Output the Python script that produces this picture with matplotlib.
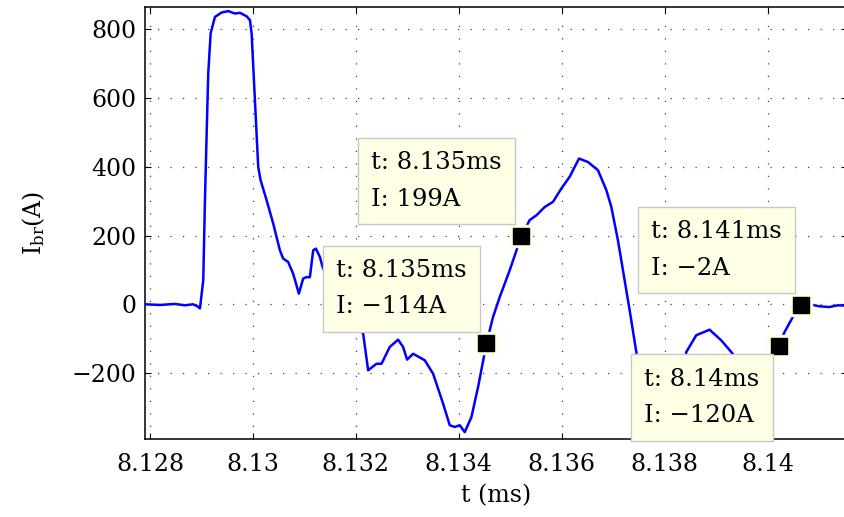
import matplotlib
matplotlib.use('Agg')
import matplotlib.pyplot as plt

plt.rcParams['font.family'] = ['DejaVu Serif']
plt.rcParams['mathtext.fontset'] = 'dejavuserif'

# branch current trace (t in ms, I in A)
t_ms = [8.127903, 8.128194, 8.128485, 8.128680, 8.128835, 8.128913, 8.128971,
        8.129035, 8.129068, 8.129101, 8.129132, 8.129179, 8.129262, 8.129392,
        8.129520, 8.129650, 8.129748, 8.129878, 8.129942, 8.129975, 8.130039,
        8.130103, 8.130149, 8.130266, 8.130394, 8.130524, 8.130588, 8.130685,
        8.130782, 8.130893, 8.130977, 8.131043, 8.131107, 8.131171, 8.131223,
        8.131301, 8.131353, 8.131495, 8.131689, 8.131883, 8.132039, 8.132142,
        8.132239, 8.132402, 8.132499, 8.132660, 8.132821, 8.132918, 8.132996,
        8.133113, 8.133340, 8.133501, 8.133695, 8.133825, 8.133922, 8.134019,
        8.134116, 8.134246, 8.134375, 8.134538, 8.134666, 8.134796, 8.134990,
        8.135217, 8.135378, 8.135509, 8.135670, 8.135831, 8.135994, 8.136155,
        8.136336, 8.136510, 8.136705, 8.136868, 8.136965, 8.137093, 8.137223,
        8.137320, 8.137450, 8.137553, 8.137670, 8.137806, 8.137961, 8.138136,
        8.138272, 8.138369, 8.138421, 8.138615, 8.138874, 8.139101, 8.139295,
        8.139495, 8.139748, 8.139981, 8.140219, 8.140330, 8.140491, 8.140654,
        8.140880, 8.141009, 8.141204, 8.141359, 8.141534]
i_br = [0, -2, 1, -3, 0, -5, -12,
        70, 303, 497, 672, 789, 836, 849,
        853, 846, 848, 838, 827, 788, 594,
        400, 361, 303, 235, 157, 133, 123,
        89, 31, 75, 79, 79, 157, 162,
        138, 109, 60, 5, -40, -70, -85,
        -192, -173, -173, -124, -103, -124, -161,
        -144, -163, -202, -289, -352, -357, -352,
        -372, -328, -241, -114, -37, 21, 99,
        199, 245, 259, 283, 298, 337, 371,
        424, 414, 390, 332, 283, 186, 70,
        -17, -139, -230, -310, -355, -370, -360,
        -300, -200, -139, -90, -74, -105, -139,
        -175, -185, -160, -120, -81, -37, -2,
        -2, -6, -8, -3, -4]

# data tips: point and whether its box sits above or below it
tip_t = [8.135217, 8.134538, 8.140654, 8.140219]
tip_i = [199, -114, -2, -120]
tip_side = ['above', 'above', 'above', 'below']

xticks = [8.128, 8.13, 8.132, 8.134, 8.136, 8.138, 8.14]
xticklabels = ['8.128', '8.13', '8.132', '8.134', '8.136', '8.138', '8.14']
yticks = [-200, 0, 200, 400, 600, 800]

fig = plt.figure(figsize=(8.45, 5.17), dpi=100)
ax = fig.add_axes([145 / 845, 1 - 439 / 517, 702 / 845, 432 / 517])

ax.plot(t_ms, i_br, color='#0000ff', lw=1.8, zorder=3)

ax.set_xlim(8.127903, 8.141544)
ax.set_ylim(-392, 865)
ax.set_xticks(xticks)
ax.set_xticklabels(xticklabels)
ax.set_yticks(yticks)
ax.tick_params(direction='in', length=4, width=0.8, labelsize=17,
               top=True, right=True)
ax.tick_params(axis='x', pad=10)
ax.tick_params(axis='y', pad=6)
ax.grid(True, color='#444444', linestyle=(0, (1, 9)), linewidth=0.9)
for s in ax.spines.values():
    s.set_linewidth(1.1)

ax.set_xlabel('t (ms)', fontsize=17, labelpad=6)
ax.set_ylabel(r'I$_{\rm br}$(A)', fontsize=17, labelpad=18)

box_fc = '#ffffe6'
for t, v, side in zip(tip_t, tip_i, tip_side):
    ax.plot(t, v, 's', ms=16, mfc=box_fc, mec=box_fc, zorder=6)
    ax.plot(t, v, 's', ms=11, color='k', zorder=7)
    label = 't: %gms\nI: %dA' % (round(t, 3), v)
    label = label.replace('-', '\u2212')
    if side == 'above':
        off, va = (-14, 18), 'bottom'
    else:
        off, va = (-14, -16), 'top'
    ax.annotate(label, xy=(t, v), xytext=off, textcoords='offset points',
                ha='right', va=va, multialignment='left', fontsize=17.5,
                linespacing=1.75, zorder=8, annotation_clip=False,
                bbox=dict(boxstyle='square,pad=0.55', fc=box_fc,
                          ec='#c8c8c8', lw=1.0))

fig.savefig('out.png', dpi=100)
